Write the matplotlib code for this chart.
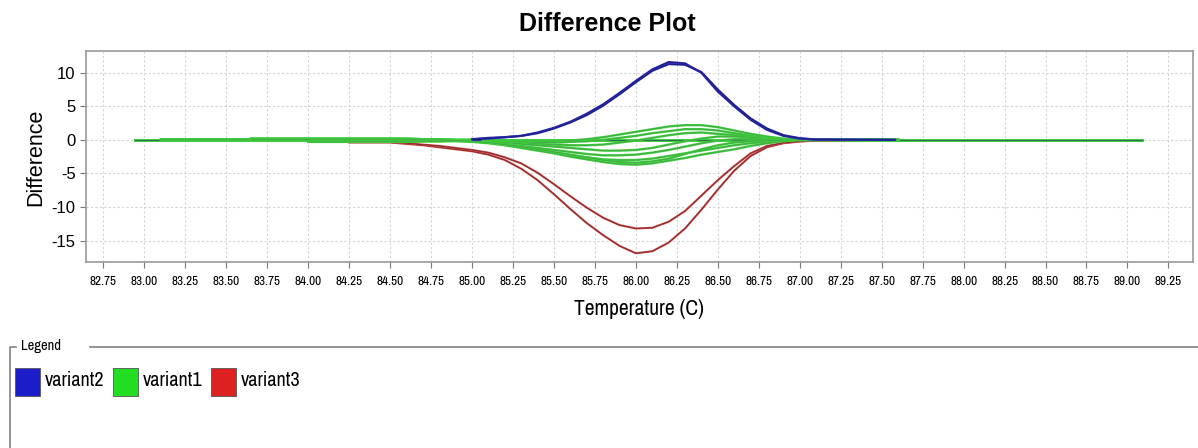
import numpy as np
import matplotlib
matplotlib.use('Agg')
import matplotlib.pyplot as plt
from matplotlib.patches import Rectangle

plt.rcParams['axes.unicode_minus'] = False
NARROW = ['Archivo Narrow', 'Liberation Sans Narrow', 'Liberation Sans', 'DejaVu Sans']
REG = ['Liberation Sans', 'DejaVu Sans']

# temperature grid of the melt region
temp_grid = [84.5, 84.6, 84.7, 84.8, 84.9, 85.0, 85.1, 85.2, 85.3, 85.4, 85.5, 85.6, 85.7, 85.8,
             85.9, 86.0, 86.1, 86.2, 86.3, 86.4, 86.5, 86.6, 86.7, 86.8, 86.9, 87.0, 87.1]

# variant2 (blue) - two replicates, from 85.0 on
blue_temp = temp_grid[5:]
blue_a = [0.1, 0.3, 0.4, 0.6, 1.1, 1.8, 2.7, 3.9, 5.3, 7.0, 8.8, 10.5, 11.6, 11.4, 10.0, 7.2, 5.0, 3.0, 1.5, 0.6, 0.2, 0.05]
blue_b = [0.1, 0.2, 0.4, 0.6, 1.0, 1.7, 2.6, 3.7, 5.1, 6.8, 8.6, 10.3, 11.3, 11.2, 10.1, 7.5, 5.2, 3.2, 1.7, 0.7, 0.25, 0.05]
blue_span = [85.05, 87.58]

# variant3 (red) - two replicates
red_outer = [-0.4, -0.6, -0.8, -1.1, -1.4, -1.7, -2.2, -3.0, -4.3, -6.0, -8.1, -10.3, -12.4, -14.2,
             -15.8, -16.9, -16.6, -15.3, -13.2, -10.4, -7.4, -4.6, -2.4, -1.1, -0.5, -0.25, -0.1]
red_inner = [-0.3, -0.5, -0.7, -0.9, -1.2, -1.5, -1.9, -2.6, -3.5, -4.9, -6.6, -8.4, -10.1, -11.6,
             -12.7, -13.2, -13.1, -12.2, -10.6, -8.3, -6.0, -3.9, -2.0, -0.9, -0.45, -0.2, -0.1]
red_span = [84.25, 87.41]

# variant1 (green) - eight replicates
green_curves = [
    [0.1, 0.1, 0.1, 0.1, 0.0, 0.0, 0.0, -0.1, -0.2, -0.2, -0.2, -0.1, 0.1, 0.4, 0.8, 1.2, 1.6, 2.0, 2.2, 2.2, 1.9, 1.4, 0.9, 0.5, 0.2, 0.05, 0.0],
    [0.2, 0.2, 0.1, 0.1, 0.0, 0.0, -0.1, -0.2, -0.3, -0.4, -0.4, -0.3, -0.2, 0.0, 0.3, 0.6, 1.0, 1.3, 1.6, 1.6, 1.4, 1.0, 0.6, 0.3, 0.1, 0.0, 0.0],
    [-0.2, -0.2, -0.2, -0.1, -0.1, 0.0, -0.1, -0.3, -0.5, -0.6, -0.7, -0.8, -0.8, -0.7, -0.4, -0.1, 0.3, 0.7, 1.0, 1.1, 0.9, 0.7, 0.4, 0.2, 0.1, 0.0, 0.0],
    [0.2, 0.2, 0.1, 0.1, 0.0, 0.0, -0.2, -0.4, -0.6, -0.8, -1.0, -1.2, -1.4, -1.6, -1.6, -1.5, -1.2, -0.7, -0.2, 0.2, 0.5, 0.5, 0.4, 0.2, 0.1, 0.0, 0.0],
    [-0.3, -0.3, -0.2, -0.2, -0.1, -0.1, -0.3, -0.6, -0.9, -1.2, -1.5, -1.8, -2.1, -2.3, -2.3, -2.2, -1.9, -1.5, -1.0, -0.5, -0.1, 0.1, 0.1, 0.1, 0.0, 0.0, 0.0],
    [0.0, 0.0, 0.0, -0.1, -0.1, -0.2, -0.4, -0.7, -1.1, -1.5, -1.9, -2.3, -2.6, -2.9, -3.0, -3.0, -2.8, -2.4, -2.0, -1.6, -1.2, -0.8, -0.5, -0.3, -0.1, 0.0, 0.0],
    [-0.2, -0.2, -0.2, -0.2, -0.2, -0.3, -0.5, -0.8, -1.2, -1.6, -2.0, -2.5, -2.9, -3.3, -3.6, -3.7, -3.5, -3.1, -2.7, -2.2, -1.8, -1.4, -0.9, -0.5, -0.2, 0.0, 0.0],
    [0.1, 0.1, 0.0, 0.0, -0.1, -0.2, -0.4, -0.7, -1.0, -1.4, -1.8, -2.2, -2.6, -3.0, -3.3, -3.4, -3.2, -2.8, -2.1, -1.4, -0.8, -0.4, -0.2, -0.1, 0.0, 0.0, 0.0],
]
green_start = [83.10, 83.65, 84.00, 83.65, 84.00, 83.10, 84.25, 83.65]
green_end = 87.6
baseline_span = [82.94, 89.09]

x_ticks = [82.75, 83.00, 83.25, 83.50, 83.75, 84.00, 84.25, 84.50, 84.75, 85.00, 85.25, 85.50, 85.75, 86.00,
           86.25, 86.50, 86.75, 87.00, 87.25, 87.50, 87.75, 88.00, 88.25, 88.50, 88.75, 89.00, 89.25]
y_ticks = [-15, -10, -5, 0, 5, 10]

legend_names = ['variant2', 'variant1', 'variant3']
legend_colors = ['#1c1cc8', '#22dd22', '#dd2020']

W, H = 1198, 448
fig = plt.figure(figsize=(W / 100, H / 100), dpi=100)
ax = fig.add_axes([86 / W, 1 - 262 / H, (1193 - 86) / W, (262 - 51) / H])

# baseline
ax.plot(baseline_span, [0, 0], color='#44cc44', lw=2.2, zorder=2)
ax.plot(baseline_span, [0, 0], color='#2a6a50', lw=0.7, zorder=2)

# red
for vals in [red_outer, red_inner]:
    xs = [red_span[0]] + temp_grid + [red_span[1]]
    ys = [vals[0]] + vals + [0.0]
    ax.plot(xs, ys, color='#d04848', lw=1.5, zorder=3)
    ax.plot(xs, ys, color='#7a2a2a', lw=0.6, zorder=3)

# green
for vals, st in zip(green_curves, green_start):
    xs = [st] + temp_grid + [green_end]
    ys = [vals[0]] + vals + [0.0]
    ax.plot(xs, ys, color='#3ccf3c', lw=1.7, zorder=4)
    ax.plot(xs, ys, color='#4c9c4c', lw=0.5, zorder=4)

# blue
for vals in [blue_a, blue_b]:
    xs = [blue_span[0]] + blue_temp + [blue_span[1]]
    ys = [0.0] + vals + [0.0]
    ax.plot(xs, ys, color='#2b2bb0', lw=1.6, zorder=5)
    ax.plot(xs, ys, color='#1a1a70', lw=0.5, zorder=5)

ax.set_xlim(82.644, 89.40)
ax.set_ylim(-18.2, 13.25)
ax.set_xticks(x_ticks)
ax.set_xticklabels([f'{t:.2f}' for t in x_ticks], family=NARROW, fontsize=9.5)
ax.set_yticks(y_ticks)
ax.set_yticklabels([str(t) for t in y_ticks], family=REG, fontsize=12)
ax.grid(True, color='#d4d4d4', linestyle=(0, (2, 2)), linewidth=0.8)
ax.set_axisbelow(True)
for sp in ax.spines.values():
    sp.set_color('#9a9a9a')
    sp.set_linewidth(1.2)
ax.tick_params(direction='out', length=4, color='#777777')
ax.tick_params(axis='x', pad=6)

fig.text(607 / W, 1 - 24 / H, 'Difference Plot', ha='center', va='center',
         fontsize=18, fontweight='bold', family=REG)
fig.text(639 / W, 1 - 309 / H, 'Temperature (C)', ha='center', va='center',
         fontsize=15.5, family=NARROW)
fig.text(35.5 / W, 1 - 157 / H, 'Difference', ha='center', va='center', rotation=90,
         fontsize=15.5, family=REG)

# legend panel
ov = fig.add_axes([0, 0, 1, 1], facecolor='none')
ov.set_xlim(0, W)
ov.set_ylim(H, 0)
ov.axis('off')
ov.plot([10, 10, 16], [H, 347, 347], color='#808080', lw=1.2)
ov.plot([90, W], [347, 347], color='#808080', lw=1.2)
ov.text(21, 346, 'Legend', ha='left', va='center', fontsize=10.5, family=NARROW)
box_x = [15, 113, 211]
for name, col, bx in zip(legend_names, legend_colors, box_x):
    ov.add_patch(Rectangle((bx, 368), 25, 28, facecolor=col, edgecolor='#555555', lw=0.6))
    ov.text(bx + 30, 381, name, ha='left', va='center', fontsize=14.5, family=NARROW)

fig.savefig('out.png', dpi=100)
